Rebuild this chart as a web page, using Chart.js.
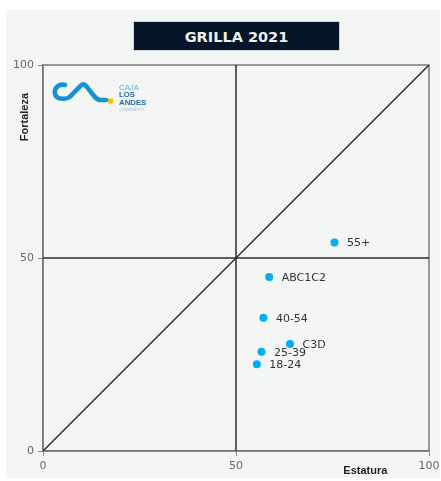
<!DOCTYPE html>
<html>
<head>
<meta charset="utf-8">
<script src="https://cdn.jsdelivr.net/npm/chart.js@4/dist/chart.umd.min.js"></script>
<style>
  html, body { margin: 0; padding: 0; background: #ffffff; width: 441px; height: 481px; overflow: hidden; }
  #panel { position: absolute; left: 6px; top: 10px; width: 434px; height: 468px; background: #f4f6f5; }
  #c { position: absolute; left: 0; top: 0; }
  #title { position: absolute; left: 133px; top: 21px; width: 207px; height: 30px; background: #06152a;
           color: #eeeeee; font: bold 14.5px "DejaVu Sans", sans-serif; text-align: center; line-height: 30px;
           box-sizing: border-box; border: 1px solid #d0d4d6; }
  #logo { position: absolute; left: 0; top: 0; pointer-events: none; }
</style>
</head>
<body>
<div id="panel"></div>
<canvas id="c" width="441" height="481"></canvas>
<div id="title">GRILLA 2021</div>
<svg id="logo" width="441" height="481">
  <path d="M65,85 C59.5,83.5 55,87 54.8,92 C54.8,97 58.5,99 64,98.8 C66.5,98.7 68.5,98 70,96.6 L80.8,85.6 C82.3,84 84.3,84 85.8,85.6 L94.5,96.5 C96,98.5 98,100 101,100 L106,100"
        fill="none" stroke="#1592d3" stroke-width="4.6" stroke-linecap="round" stroke-linejoin="round"/>
  <rect x="108" y="98.5" width="5" height="5" fill="#f2c200"/>
  <text x="119" y="89.5" font-family="Liberation Sans, sans-serif" font-size="7.8" fill="#4fb0e3">CAJA</text>
  <text x="119" y="97" font-family="Liberation Sans, sans-serif" font-size="7.8" font-weight="bold" fill="#1b6db3">LOS</text>
  <text x="119" y="104.5" font-family="Liberation Sans, sans-serif" font-size="7.8" font-weight="bold" fill="#1b6db3">ANDES</text>
  <text x="119" y="110.5" font-family="Liberation Sans, sans-serif" font-size="3" fill="#a9b8c4">COMPENSACIÓN</text>
</svg>
<script>
// ---- data ----
const segmentos = ['55+', 'ABC1C2', '40-54', 'C3D', '25-39', '18-24'];
const estatura  = [75.5, 58.6, 57.1, 64.0, 56.6, 55.4];
const fortaleza = [54.0, 45.1, 34.5, 27.7, 25.7, 22.5];
const tickValues = [0, 50, 100];
const axisMin = 0, axisMax = 100, axisMid = 50;
const xTitle = 'Estatura';
const yTitle = 'Fortaleza';

const points = segmentos.map((s, i) => ({ x: estatura[i], y: fortaleza[i], label: s }));

const labelPlugin = {
  id: 'pointLabels',
  afterDatasetsDraw(chart) {
    const ctx = chart.ctx;
    const meta = chart.getDatasetMeta(0);
    ctx.save();
    ctx.font = '11px "DejaVu Sans", sans-serif';
    ctx.fillStyle = '#333333';
    ctx.textBaseline = 'middle';
    ctx.textAlign = 'left';
    meta.data.forEach((el, i) => {
      ctx.fillText(points[i].label, el.x + 12.5, el.y + 1);
    });
    ctx.restore();
  }
};

const framePlugin = {
  id: 'frame',
  beforeDatasetsDraw(chart) {
    const a = chart.chartArea, ctx = chart.ctx;
    ctx.save();
    ctx.strokeStyle = '#7a7a7a';
    ctx.lineWidth = 1.5;
    ctx.strokeRect(a.left, a.top, a.right - a.left, a.bottom - a.top);
    ctx.restore();
  },
  afterDraw(chart) {
    const ctx = chart.ctx, xs = chart.scales.x, ys = chart.scales.y;
    ctx.save();
    ctx.font = 'bold 11px "Liberation Sans", sans-serif';
    ctx.fillStyle = '#222222';
    ctx.textAlign = 'center';
    ctx.textBaseline = 'middle';
    ctx.fillText(xTitle, xs.getPixelForValue(83.5), 471);
    ctx.translate(25, ys.getPixelForValue(86.5));
    ctx.rotate(-Math.PI / 2);
    ctx.fillText(yTitle, 0, 0);
    ctx.restore();
  }
};

const lineStyle = { type: 'line', showLine: true, pointRadius: 0, borderColor: '#2a2a2a', borderWidth: 1.5, fill: false };

new Chart(document.getElementById('c'), {
  type: 'scatter',
  data: {
    datasets: [
      { data: points, backgroundColor: '#00aef0', borderWidth: 0, pointRadius: 4, pointHoverRadius: 4 },
      Object.assign({ data: [{ x: axisMid, y: axisMin }, { x: axisMid, y: axisMax }] }, lineStyle),
      Object.assign({ data: [{ x: axisMin, y: axisMid }, { x: axisMax, y: axisMid }] }, lineStyle),
      Object.assign({ data: [{ x: axisMin, y: axisMin }, { x: axisMax, y: axisMax }] }, lineStyle)
    ]
  },
  options: {
    responsive: false,
    animation: false,
    layout: { padding: { top: 65, right: 12, left: 0, bottom: 0 } },
    plugins: { legend: { display: false }, tooltip: { enabled: false } },
    scales: {
      x: {
        type: 'linear', min: axisMin, max: axisMax,
        afterBuildTicks(s) { s.ticks = tickValues.map(v => ({ value: v })); },
        afterFit(s) { s.height = 30; s.paddingLeft = 0; s.paddingRight = 0; },
        ticks: { color: '#666666', font: { family: 'DejaVu Sans', size: 11 }, padding: 4 },
        grid: { drawOnChartArea: false, tickLength: 5, color: '#888888' },
        border: { color: '#7a7a7a', width: 1.5 }
      },
      y: {
        type: 'linear', min: axisMin, max: axisMax,
        afterBuildTicks(s) { s.ticks = tickValues.map(v => ({ value: v })); },
        afterFit(s) { s.width = 43; s.paddingTop = 0; s.paddingBottom = 0; },
        ticks: { color: '#666666', font: { family: 'DejaVu Sans', size: 11 }, padding: 4 },
        grid: { drawOnChartArea: false, tickLength: 5, color: '#888888' },
        border: { color: '#7a7a7a', width: 1.5 }
      }
    }
  },
  plugins: [labelPlugin, framePlugin]
});
</script>
</body>
</html>
